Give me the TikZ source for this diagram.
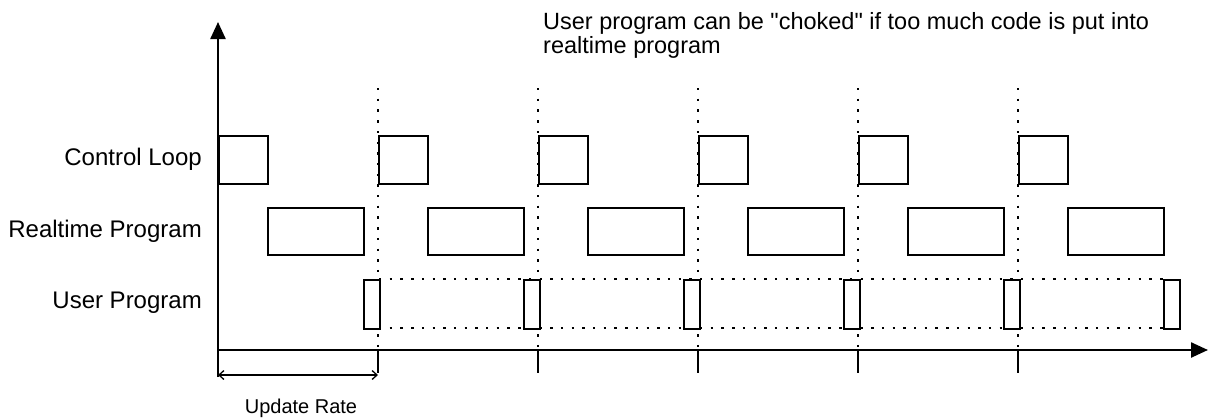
\documentclass[tikz,border=0pt]{standalone}
\usepackage{fontspec}
\setmainfont{Liberation Sans}
\usetikzlibrary{arrows.meta}
\newcommand\straightquote{\XeTeXglyph\XeTeXcharglyph 34 \relax}
\begin{document}
\begin{tikzpicture}[x=1pt,y=-1pt,
  box/.style={draw, line width=2pt, fill=white, inner sep=0pt, anchor=north west},
  clbox/.style={box, minimum width=49pt, minimum height=48pt},
  rtbox/.style={box, minimum width=96pt, minimum height=47pt},
  upbox/.style={box, minimum width=16pt, minimum height=49pt},
  axis/.style={line width=2.4pt},
  axtip/.style={-{Triangle[length=17pt,width=15pt]}},
  dots/.style={line width=2.4pt, dash pattern=on 2.4pt off 8.3pt},
  lbl/.style={font=\fontsize{24}{26}\selectfont, inner sep=0pt, anchor=base east},
  dim/.style={line width=1.3pt, {Straight Barb[length=5pt,width=9pt]}-{Straight Barb[length=5pt,width=9pt]}}
]
\useasboundingbox (0,0) rectangle (1211,418);

% axes
\coordinate (O) at (218,350);
\coordinate (ytop) at (218,22);
\coordinate (ybot) at (218,377);
\coordinate (xend) at (1208,350);
\draw[axis, axtip] (ybot) -- (ytop);
\draw[axis, axtip] (O) -- (xend);

% dotted period lines and ticks
\foreach \k in {0,...,4}{
  \coordinate (dt\k) at ({378+160*\k},88);
  \coordinate (db\k) at ({378+160*\k},350);
  \coordinate (tk\k) at ({378+160*\k},373);
  \draw[dots] (dt\k) -- (db\k);
  \draw[axis] (db\k) -- (tk\k);
}

% dotted user-program span
\coordinate (ua) at (379,279);
\coordinate (ub) at (1163,279);
\coordinate (uc) at (379,328);
\coordinate (ud) at (1163,328);
\draw[dots] (ua) -- (ub);
\draw[dots] (uc) -- (ud);

% boxes
\foreach \k in {0,...,5}{
  \node[clbox] (cl\k) at ({218+160*\k},135) {};
  \node[rtbox] (rt\k) at ({267+160*\k},207) {};
  \node[upbox] (up\k) at ({363+160*\k},279) {};
}

% labels
\node[lbl] (lcl) at (202,165) {Control Loop};
\node[lbl] (lrt) at (202,237) {Realtime Program};
\node[lbl] (lup) at (202,308) {User Program};

\node[inner sep=0pt, anchor=base west, font=\fontsize{23.5}{24}\selectfont] (note) at (543,29)
  {\parbox[t]{700pt}{\raggedright User program can be \straightquote choked\straightquote\ if too much code is put into\\realtime program}};

% update rate
\coordinate (ra) at (218,375);
\coordinate (rb) at (378,375);
\draw[dim] (ra) -- (rb);
\node[inner sep=0pt, anchor=base, font=\fontsize{20}{22}\selectfont] (upd) at (301,413) {Update Rate};
\end{tikzpicture}
\end{document}
